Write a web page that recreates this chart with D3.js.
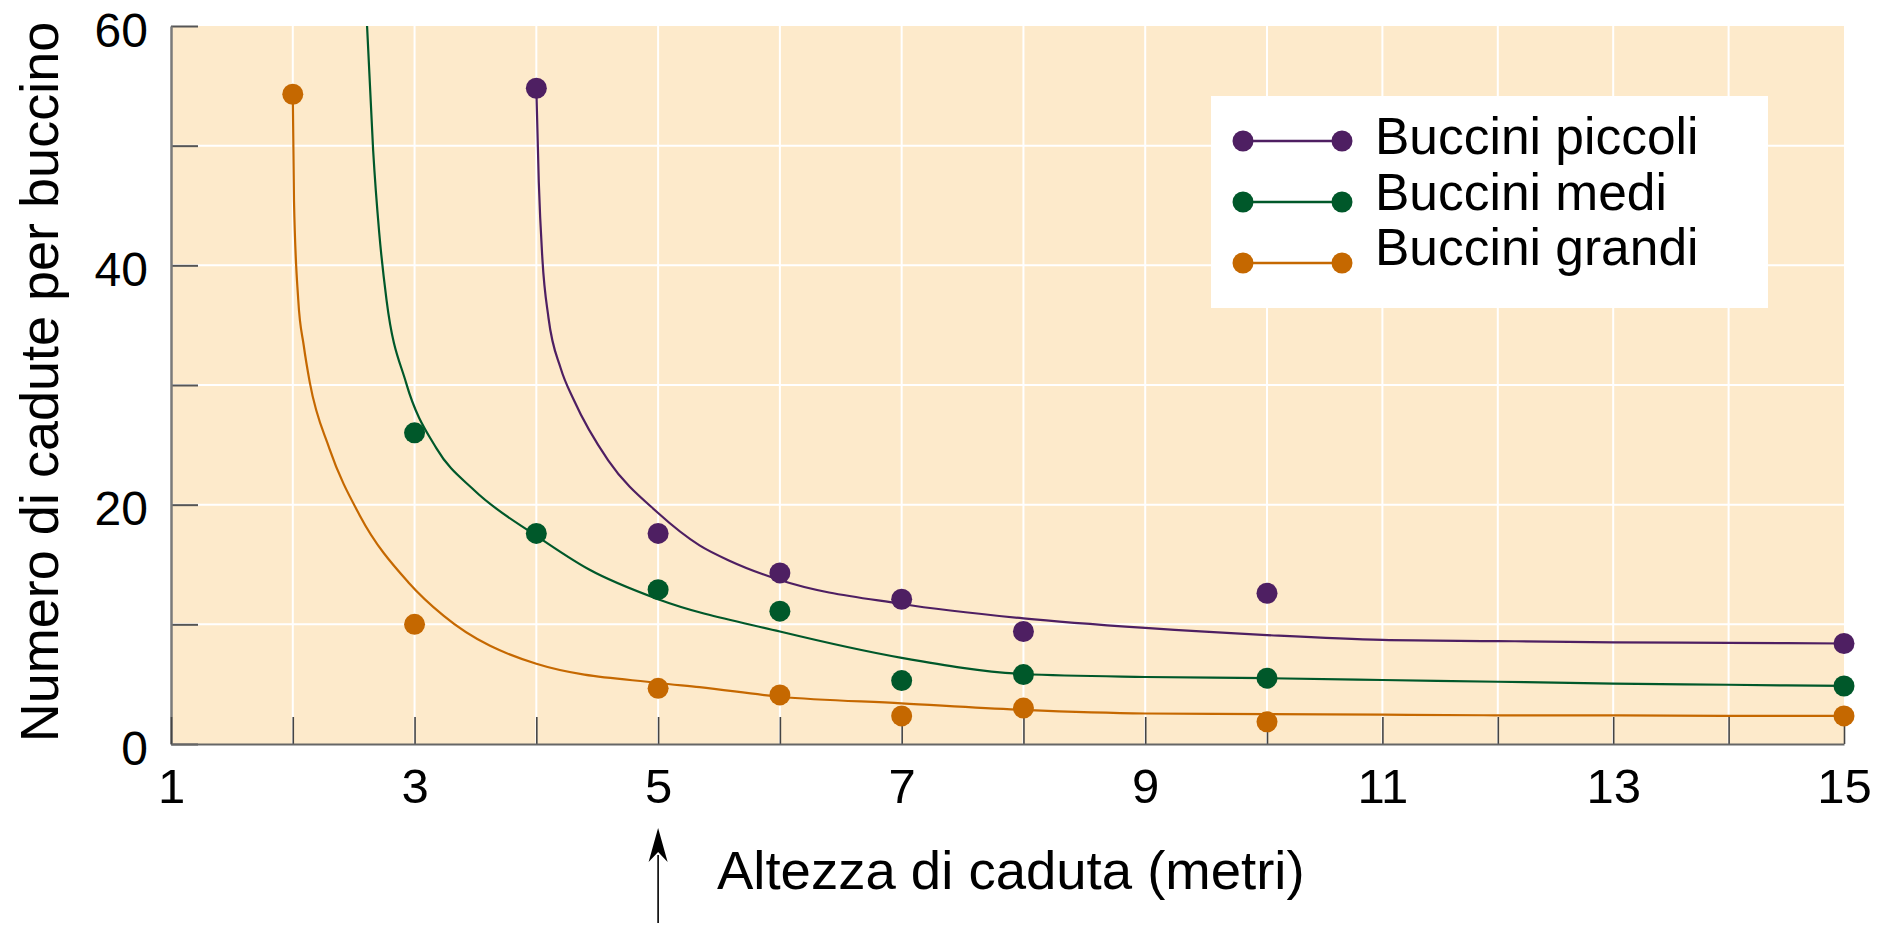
<!DOCTYPE html>
<html><head><meta charset="utf-8">
<script src="https://cdn.jsdelivr.net/npm/d3@7"></script>
<style>html,body{margin:0;padding:0;background:#fff;} svg{display:block;} text{font-family:"Liberation Sans",Arial,sans-serif;fill:#000;}</style>
</head><body>
<svg id="chart" width="1893" height="929"></svg>
<script>
// ---- data ----
const seriesNames = ["Buccini piccoli", "Buccini medi", "Buccini grandi"];
const seriesColors = ["#4e1f62", "#00582a", "#c56800"];

const xPiccoli = [4, 5, 6, 7, 8, 10, 15];
const yPiccoli = [54.8, 17.6, 14.3, 12.1, 9.4, 12.6, 8.4];
const xMedi = [3, 4, 5, 6, 7, 8, 10, 15];
const yMedi = [26.0, 17.6, 12.9, 11.1, 5.3, 5.8, 5.5, 4.85];
const xGrandi = [2, 3, 5, 6, 7, 8, 10, 15];
const yGrandi = [54.3, 10.0, 4.65, 4.1, 2.35, 3.0, 1.85, 2.35];

// fitted curves
const curveXPiccoli = [4.0, 4.02, 4.05, 4.1, 4.2, 4.31, 4.59, 5.0, 5.34, 5.59, 6, 7, 8, 9, 10, 11, 12, 13, 14, 15];
const curveYPiccoli = [54.8, 47.0, 40.5, 35.6, 31.4, 28.7, 23.7, 19.3, 16.6, 15.3, 13.7, 11.7, 10.5, 9.7, 9.1, 8.7, 8.6, 8.5, 8.45, 8.4];
const curveXMedi = [2.61, 2.66, 2.71, 2.77, 2.93, 3.18, 3.49, 4.0, 4.43, 5, 6, 7, 8, 9, 10, 11, 12, 13, 14, 15];
const curveYMedi = [60, 49.6, 42.7, 37.1, 30.2, 24.7, 21.2, 17.4, 14.6, 12.1, 9.4, 7.2, 5.85, 5.6, 5.5, 5.35, 5.2, 5.05, 4.95, 4.85];
const curveXGrandi = [2.0, 2.01, 2.045, 2.09, 2.14, 2.3, 2.55, 2.95, 3.24, 4, 5, 5.34, 6, 7, 8, 9, 10, 11, 12, 13, 14, 15];
const curveYGrandi = [54.3, 45.4, 37.1, 33.3, 30.2, 24.7, 19.1, 13.5, 10.7, 6.7, 5.1, 4.75, 3.95, 3.4, 2.85, 2.55, 2.5, 2.45, 2.4, 2.4, 2.35, 2.35];

const xTickValues = [1, 2, 3, 4, 5, 6, 7, 8, 9, 10, 11, 12, 13, 14, 15];
const xTickLabels = [1, 3, 5, 7, 9, 11, 13, 15];
const yTickValues = [0, 10, 20, 30, 40, 50, 60];
const yTickLabels = [0, 20, 40, 60];
const xTitle = "Altezza di caduta (metri)";
const yTitle = "Numero di cadute per buccino";
const markedHeight = 5;

// ---- build ----
const svg = d3.select("#chart");
const x = d3.scaleLinear().domain([1, 10, 15]).range([171, 1267, 1844]);
const y = d3.scaleLinear().domain([0, 60]).range([744, 26]);

svg.append("rect")
  .attr("x", x(1)).attr("y", y(60))
  .attr("width", x(15) - x(1)).attr("height", y(0) - y(60))
  .attr("fill", "#fdeacb");

// grid
svg.append("g").selectAll("line").data(xTickValues.filter(d => d > 1 && d < 15)).join("line")
  .attr("x1", d => x(d)).attr("x2", d => x(d)).attr("y1", y(60)).attr("y2", y(0))
  .attr("stroke", "#fff").attr("stroke-width", 2);
svg.append("g").selectAll("line").data(yTickValues.filter(d => d > 0 && d < 60)).join("line")
  .attr("x1", x(1)).attr("x2", x(15)).attr("y1", d => y(d)).attr("y2", d => y(d))
  .attr("stroke", "#fff").attr("stroke-width", 2);

// axes
const yAxis = d3.axisLeft(y).tickValues(yTickValues).tickSizeInner(-27).tickSizeOuter(0).tickPadding(23)
  .tickFormat(d => yTickLabels.includes(d) ? d : "");
const gy = svg.append("g").attr("transform", `translate(${x(1)},0)`).call(yAxis);
gy.select(".domain").attr("stroke", "#7a7a7a").attr("stroke-width", 2.5);
gy.selectAll(".tick line").attr("stroke", "#555").attr("stroke-width", 2);
gy.selectAll(".tick text").attr("font-size", 48).attr("dy", "0.42em")
  .style("font-family", '"Liberation Sans", Arial, sans-serif').attr("fill", "#000");

const xAxis = d3.axisBottom(x).tickValues(xTickValues).tickSizeInner(-27).tickSizeOuter(0).tickPadding(24)
  .tickFormat(d => xTickLabels.includes(d) ? d : "");
const gx = svg.append("g").attr("transform", `translate(0,${y(0)})`).call(xAxis);
gx.select(".domain").attr("stroke", "#666").attr("stroke-width", 2);
gx.selectAll(".tick line").attr("stroke", "#444").attr("stroke-width", 1.6);
gx.selectAll(".tick text").attr("font-size", 49)
  .style("font-family", '"Liberation Sans", Arial, sans-serif').attr("fill", "#000");
svg.selectAll(".domain").raise();

// clip
svg.append("clipPath").attr("id", "plotclip").append("rect")
  .attr("x", x(1)).attr("y", y(60)).attr("width", x(15) - x(1) + 12).attr("height", y(0) - y(60));

const curves = [
  {xs: curveXPiccoli, ys: curveYPiccoli},
  {xs: curveXMedi, ys: curveYMedi},
  {xs: curveXGrandi, ys: curveYGrandi}
];
const points = [
  {xs: xPiccoli, ys: yPiccoli},
  {xs: xMedi, ys: yMedi},
  {xs: xGrandi, ys: yGrandi}
];
const line = d3.line().x(d => x(d[0])).y(d => y(d[1])).curve(d3.curveMonotoneX);

const plotG = svg.append("g").attr("clip-path", "url(#plotclip)");
curves.forEach((c, i) => {
  plotG.append("path")
    .datum(c.xs.map((v, j) => [v, c.ys[j]]))
    .attr("d", line).attr("fill", "none")
    .attr("stroke", seriesColors[i]).attr("stroke-width", 2.2);
});
const dotsG = svg.append("g");
points.forEach((p, i) => {
  dotsG.selectAll(null).data(p.xs.map((v, j) => [v, p.ys[j]])).join("circle")
    .attr("cx", d => x(d[0])).attr("cy", d => y(d[1])).attr("r", 10.5)
    .attr("fill", seriesColors[i]);
});

// legend
const lg = svg.append("g").attr("transform", "translate(1211,96)");
lg.append("rect").attr("width", 557).attr("height", 212).attr("fill", "#fff");
seriesNames.forEach((name, i) => {
  const my = 45 + i * 61;
  lg.append("line").attr("x1", 32).attr("x2", 131).attr("y1", my).attr("y2", my)
    .attr("stroke", seriesColors[i]).attr("stroke-width", 2.5);
  lg.append("circle").attr("cx", 32).attr("cy", my).attr("r", 10.5).attr("fill", seriesColors[i]);
  lg.append("circle").attr("cx", 131).attr("cy", my).attr("r", 10.5).attr("fill", seriesColors[i]);
  lg.append("text").attr("x", 164).attr("y", 58 + i * 55.5).attr("font-size", 51.5).text(name);
});

// titles
svg.append("text").attr("x", 717).attr("y", 889).attr("font-size", 54.5).text(xTitle);
svg.append("text").attr("transform", "translate(58,382) rotate(-90)")
  .attr("text-anchor", "middle").attr("font-size", 54).text(yTitle);

// arrow under x = 5
const ax = x(markedHeight);
svg.append("line").attr("x1", ax).attr("x2", ax).attr("y1", 855).attr("y2", 923)
  .attr("stroke", "#000").attr("stroke-width", 1.6);
svg.append("path")
  .attr("d", `M${ax},828 L${ax + 9.5},862 L${ax},852 L${ax - 9.5},862 Z`)
  .attr("fill", "#000");
</script>
</body></html>
